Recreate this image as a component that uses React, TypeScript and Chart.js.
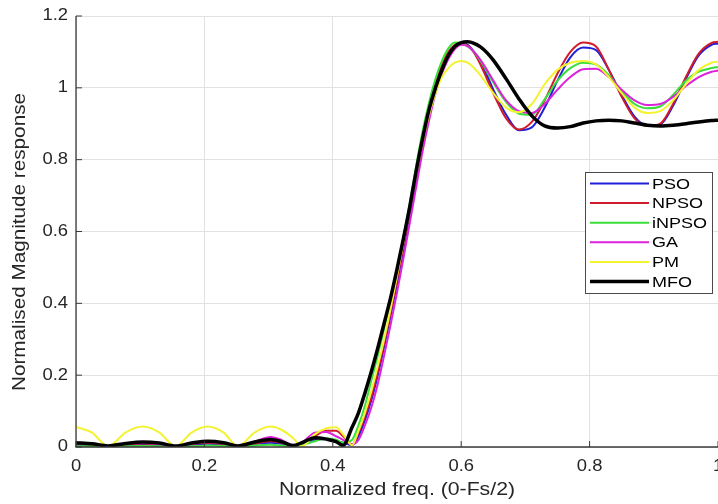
import React, { useEffect, useRef } from 'react';
import { Chart, registerables } from 'chart.js';

Chart.register(...registerables);

// ---- data ----
const freq = [
  0, 0.025, 0.05, 0.077, 0.104, 0.13, 0.155, 0.18, 0.205, 0.23, 0.252, 0.278, 0.303, 0.32, 0.338, 0.352, 0.372, 0.39, 0.405, 0.416,
  0.43, 0.44, 0.45, 0.46, 0.47, 0.48, 0.49, 0.5, 0.51, 0.52, 0.53, 0.54, 0.55, 0.56, 0.57, 0.58, 0.59, 0.6, 0.61, 0.62, 0.63, 0.64, 0.65,
  0.67, 0.69, 0.71, 0.73, 0.75, 0.77, 0.79, 0.81, 0.83, 0.85, 0.87, 0.89, 0.91, 0.93, 0.95, 0.97, 0.99, 1.0,
];

const pso = [
  0.005, 0.004, 0.001, 0.005, 0.008, 0.005, 0.001, 0.006, 0.009, 0.006, 0.001, 0.008, 0.012, 0.009, 0.002, 0.008, 0.02, 0.022, 0.016, 0.012,
  0.005, 0.03, 0.075, 0.13, 0.2, 0.28, 0.365, 0.455, 0.55, 0.65, 0.75, 0.845, 0.93, 1.0, 1.055, 1.095, 1.118, 1.124, 1.12, 1.1, 1.07, 1.035, 0.995,
  0.925, 0.882, 0.89, 0.945, 1.02, 1.085, 1.112, 1.105, 1.05, 0.98, 0.92, 0.895, 0.898, 0.95, 1.025, 1.09, 1.12, 1.123,
];

const npso = [
  0.008, 0.006, 0.002, 0.007, 0.01, 0.007, 0.002, 0.008, 0.012, 0.008, 0.002, 0.01, 0.016, 0.012, 0.004, 0.01, 0.03, 0.045, 0.045, 0.03,
  0.006, 0.04, 0.085, 0.14, 0.21, 0.29, 0.375, 0.465, 0.56, 0.66, 0.76, 0.855, 0.94, 1.01, 1.065, 1.1, 1.12, 1.126, 1.118, 1.098, 1.065, 1.025, 0.985,
  0.915, 0.884, 0.905, 0.965, 1.04, 1.1, 1.126, 1.115, 1.05, 0.975, 0.915, 0.894, 0.9, 0.955, 1.03, 1.095, 1.125, 1.128,
];

const inpso = [
  0.002, 0.002, 0.001, 0.002, 0.003, 0.002, 0.001, 0.002, 0.004, 0.003, 0.001, 0.004, 0.006, 0.004, 0.002, 0.006, 0.016, 0.024, 0.02, 0.012,
  0.02, 0.06, 0.115, 0.185, 0.255, 0.33, 0.41, 0.495, 0.585, 0.68, 0.785, 0.88, 0.96, 1.025, 1.075, 1.11, 1.126, 1.125, 1.115, 1.1, 1.075, 1.045, 1.015,
  0.96, 0.928, 0.925, 0.968, 1.02, 1.055, 1.07, 1.065, 1.035, 0.99, 0.955, 0.943, 0.948, 0.98, 1.02, 1.045, 1.055, 1.058,
];

const ga = [
  0.01, 0.008, 0.003, 0.009, 0.012, 0.008, 0.002, 0.01, 0.014, 0.01, 0.003, 0.015, 0.028, 0.02, 0.004, 0.012, 0.04, 0.042, 0.03, 0.02,
  0.008, 0.02, 0.06, 0.11, 0.175, 0.255, 0.34, 0.43, 0.525, 0.625, 0.725, 0.825, 0.91, 0.985, 1.04, 1.08, 1.108, 1.12, 1.116, 1.1, 1.078, 1.05, 1.02,
  0.965, 0.935, 0.93, 0.955, 0.995, 1.03, 1.052, 1.053, 1.03, 0.995, 0.965, 0.952, 0.955, 0.975, 1.005, 1.03, 1.045, 1.048,
];

const pm = [
  0.056, 0.04, 0.002, 0.04, 0.057, 0.04, 0.002, 0.04, 0.057, 0.04, 0.002, 0.04, 0.057, 0.048, 0.025, 0.002, 0.035, 0.052, 0.055, 0.035,
  0.005, 0.045, 0.095, 0.155, 0.225, 0.3, 0.385, 0.475, 0.57, 0.665, 0.76, 0.85, 0.925, 0.985, 1.03, 1.055, 1.07, 1.075, 1.07, 1.055, 1.035, 1.01, 0.985,
  0.945, 0.932, 0.955, 1.01, 1.05, 1.07, 1.075, 1.065, 1.03, 0.985, 0.945, 0.93, 0.935, 0.965, 1.01, 1.05, 1.07, 1.073,
];

const mfo = [
  0.012, 0.009, 0.003, 0.01, 0.014, 0.011, 0.003, 0.011, 0.016, 0.012, 0.003, 0.014, 0.021, 0.015, 0.004, 0.012, 0.026, 0.022, 0.015, 0.004,
  0.055, 0.095, 0.15, 0.21, 0.275, 0.345, 0.415, 0.495, 0.58, 0.67, 0.77, 0.86, 0.94, 1.0, 1.05, 1.09, 1.115, 1.126, 1.128, 1.124, 1.114, 1.098, 1.077,
  1.025, 0.969, 0.922, 0.894, 0.888, 0.892, 0.902, 0.908, 0.91, 0.908, 0.902, 0.896, 0.894, 0.896, 0.9, 0.905, 0.909, 0.91,
];

const seriesNames = ['PSO', 'NPSO', 'iNPSO', 'GA', 'PM', 'MFO'];
const seriesValues = [pso, npso, inpso, ga, pm, mfo];
const seriesColors = ['#1f1fd8', '#cf1b2b', '#3ade3a', '#dc22dc', '#f3f332', '#000000'];
const seriesWidths = [2, 2, 2, 2, 2, 3.5];

const xTicks = [0, 0.2, 0.4, 0.6, 0.8, 1];
const yTicks = [0, 0.2, 0.4, 0.6, 0.8, 1, 1.2];
const xTitle = 'Normalized freq. (0-Fs/2)';
const yTitle = 'Normalised Magnitude response';

const FONT = '"Liberation Sans", Arial, sans-serif';
const TEXT = '#262626';

function stretched(ctx: CanvasRenderingContext2D, text: string, x: number, y: number, align: CanvasTextAlign, sx: number, rot = 0) {
  ctx.save();
  ctx.translate(x, y);
  if (rot) ctx.rotate(rot);
  ctx.scale(sx, 1);
  ctx.textAlign = align;
  ctx.textBaseline = 'middle';
  ctx.fillText(text, 0, 0);
  ctx.restore();
}

const decor = {
  id: 'matlabDecor',
  afterDraw(chart: any) {
    const ctx: CanvasRenderingContext2D = chart.ctx;
    const { left, bottom } = chart.chartArea;
    const xs = chart.scales.x;
    const ys = chart.scales.y;
    ctx.save();
    // axes
    ctx.strokeStyle = '#3a3a3a';
    ctx.lineWidth = 1.3;
    ctx.beginPath();
    ctx.moveTo(left, chart.chartArea.top);
    ctx.lineTo(left, bottom);
    ctx.lineTo(chart.width, bottom);
    ctx.stroke();
    // inward ticks
    ctx.lineWidth = 1;
    ctx.beginPath();
    xTicks.forEach((t) => {
      const px = xs.getPixelForValue(t);
      ctx.moveTo(px, bottom);
      ctx.lineTo(px, bottom - 6);
    });
    yTicks.forEach((t) => {
      const py = ys.getPixelForValue(t);
      ctx.moveTo(left, py);
      ctx.lineTo(left + 6, py);
    });
    ctx.stroke();
    // tick labels
    ctx.fillStyle = TEXT;
    ctx.font = `16px ${FONT}`;
    xTicks.forEach((t) => {
      stretched(ctx, String(t), xs.getPixelForValue(t), bottom + 20, 'center', 1.15);
    });
    yTicks.forEach((t) => {
      stretched(ctx, String(t), left - 8, ys.getPixelForValue(t), 'right', 1.15);
    });
    // titles
    ctx.font = `18px ${FONT}`;
    stretched(ctx, xTitle, (left + chart.chartArea.right) / 2, bottom + 43, 'center', 1.18);
    stretched(ctx, yTitle, 20, 242, 'center', 1.15, -Math.PI / 2);
    // legend
    const lx = 585, ly = 172, lw = 127, lh = 121;
    ctx.fillStyle = '#ffffff';
    ctx.fillRect(lx, ly, lw, lh);
    ctx.strokeStyle = '#4a4a4a';
    ctx.lineWidth = 1;
    ctx.strokeRect(lx + 0.5, ly + 0.5, lw, lh);
    ctx.font = `15px ${FONT}`;
    chart.data.datasets.forEach((ds: any, i: number) => {
      const y = 183.5 + i * 19.6;
      ctx.strokeStyle = ds.borderColor;
      ctx.lineWidth = ds.borderWidth;
      ctx.beginPath();
      ctx.moveTo(590, y);
      ctx.lineTo(649, y);
      ctx.stroke();
      ctx.fillStyle = '#000';
      stretched(ctx, ds.label, 652, y + 1, 'left', 1.2);
    });
    ctx.restore();
  },
};

export default function App() {
  const ref = useRef<HTMLCanvasElement>(null);
  useEffect(() => {
    if (!ref.current) return;
    const datasets = seriesNames.map((name, i) => ({
      label: name,
      data: freq.map((f, j) => ({ x: f, y: seriesValues[i][j] })),
      borderColor: seriesColors[i],
      backgroundColor: seriesColors[i],
      borderWidth: seriesWidths[i],
      pointRadius: 0,
      cubicInterpolationMode: 'monotone' as const,
      order: seriesNames.length - i,
    }));
    const chart = new Chart(ref.current, {
      type: 'line',
      data: { datasets },
      options: {
        responsive: false,
        animation: false,
        layout: { padding: { top: 16, right: 22, left: 0, bottom: 0 } },
        scales: {
          x: {
            type: 'linear',
            min: 0,
            max: 1,
            ticks: { display: false, stepSize: 0.2 },
            grid: { color: '#e2e2e2', drawTicks: false },
            border: { display: false },
            afterFit: (s: any) => { s.height = 57; },
          },
          y: {
            type: 'linear',
            min: 0,
            max: 1.2,
            ticks: { display: false, stepSize: 0.2 },
            grid: { color: '#e2e2e2', drawTicks: false },
            border: { display: false },
            afterFit: (s: any) => { s.width = 76; },
          },
        },
        plugins: { legend: { display: false }, tooltip: { enabled: false } },
      },
      plugins: [decor],
    });
    return () => chart.destroy();
  }, []);
  return (
    <div style={{ position: 'fixed', left: 0, top: 0, width: 718, height: 504, overflow: 'hidden', background: '#fff' }}>
      <canvas ref={ref} width={740} height={504} style={{ width: 740, height: 504, display: 'block' }} />
    </div>
  );
}
